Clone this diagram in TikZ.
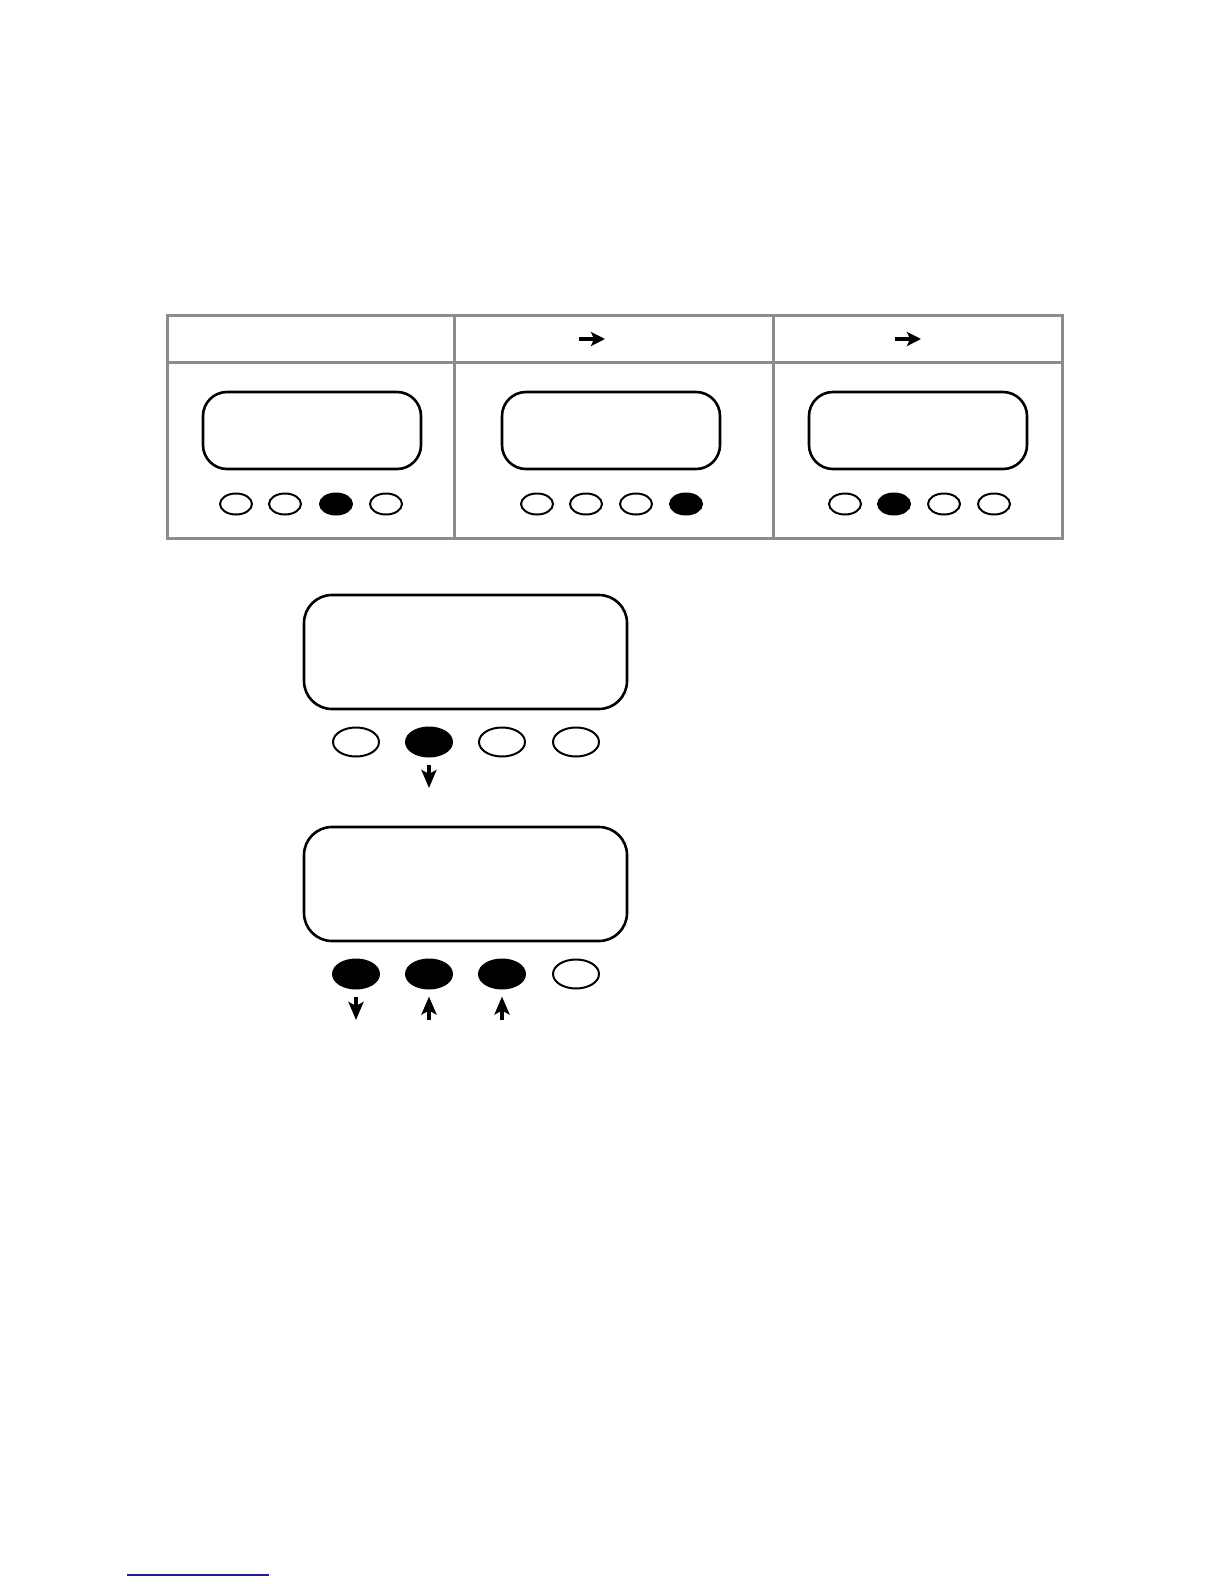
\documentclass[tikz,border=0pt]{standalone}
\usetikzlibrary{shapes.geometric,arrows.meta}
\definecolor{gridgray}{HTML}{8C8C8C}
\definecolor{linkblue}{HTML}{1F1F8F}
\tikzset{
  gridline/.style={draw=gridgray,line width=1.5pt},
  lcd/.style={draw,line width=1.3pt,rounded corners=12pt,inner sep=0pt,
    minimum width=109pt,minimum height=38.5pt},
  biglcd/.style={lcd,rounded corners=14pt,minimum width=161.5pt,minimum height=57pt},
  key/.style={draw,ellipse,line width=1pt,inner sep=0pt,
    minimum width=16pt,minimum height=10.5pt},
  bigkey/.style={key,minimum width=23pt,minimum height=14.5pt},
  on/.style={fill=black},
  keyarrow/.style={line width=1.8pt,-{Stealth[width=7.5pt,length=9pt,inset=2pt]}},
  headarrow/.style={line width=1.6pt,-{Stealth[width=7pt,length=7pt,inset=1.5pt]}},
}
\begin{document}
\begin{tikzpicture}[x=0.5pt,y=-0.5pt]
\useasboundingbox (0,0) rectangle (1224,1584);

% table
\draw [gridline] (167,315) rectangle (1062,538);
\path [gridline]
    (167,362) -- (1062,362)
    (454,315) -- (454,538)
    (773,315) -- (773,538)
;

\coordinate (h2a) at (579,339);
\coordinate (h2b) at (605,339);
\coordinate (h3a) at (895,339);
\coordinate (h3b) at (921,339);
\draw [headarrow] (h2a) -- (h2b);
\draw [headarrow] (h3a) -- (h3b);

% small displays
\node [lcd] (s1) at (312,430.5) {};
\node [lcd] (s2) at (611,430.5) {};
\node [lcd] (s3) at (918,430.5) {};

\node [key] (k11) at (236,504) {};
\node [key] (k12) at (285,504) {};
\node [key,on] (k13) at (336,504) {};
\node [key] (k14) at (386,504) {};

\node [key] (k21) at (537,504) {};
\node [key] (k22) at (586,504) {};
\node [key] (k23) at (636,504) {};
\node [key,on] (k24) at (686,504) {};

\node [key] (k31) at (845,504) {};
\node [key,on] (k32) at (894,504) {};
\node [key] (k33) at (944,504) {};
\node [key] (k34) at (994,504) {};

% big displays
\node [biglcd] (d1) at (465.5,652) {};
\node [bigkey] (b11) at (356,742) {};
\node [bigkey,on] (b12) at (429,742) {};
\node [bigkey] (b13) at (502,742) {};
\node [bigkey] (b14) at (576,742) {};

\node [biglcd] (d2) at (465.5,884) {};
\node [bigkey,on] (b21) at (356,974) {};
\node [bigkey,on] (b22) at (429,974) {};
\node [bigkey,on] (b23) at (502,974) {};
\node [bigkey] (b24) at (576,974) {};

\coordinate (a12) at (429,788);
\coordinate (a21) at (356,1020);
\coordinate (a22) at (429,1020);
\coordinate (a23) at (502,1020);

\draw [keyarrow,shorten <=3.5pt] (b12) -- (a12);
\draw [keyarrow,shorten <=3.5pt] (b21) -- (a21);
\draw [keyarrow,shorten >=3.5pt] (a22) -- (b22);
\draw [keyarrow,shorten >=3.5pt] (a23) -- (b23);

% footnote rule
\coordinate (fa) at (127,1575);
\coordinate (fb) at (269,1575);
\draw [linkblue,line width=1pt] (fa) -- (fb);

\end{tikzpicture}
\end{document}
